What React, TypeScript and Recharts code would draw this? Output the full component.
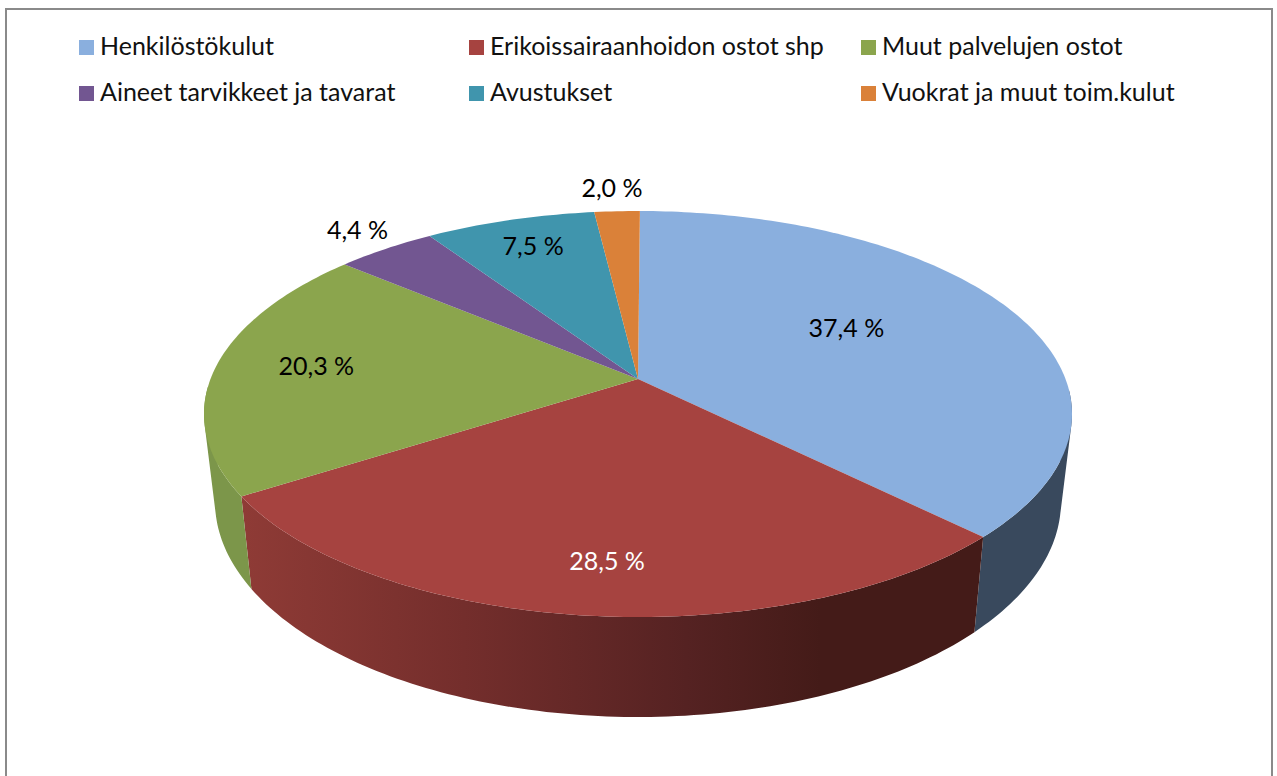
import React from "react";
import { PieChart, Pie, Legend } from "recharts";

const categories = [
  "Henkilöstökulut",
  "Erikoissairaanhoidon ostot shp",
  "Muut palvelujen ostot",
  "Aineet tarvikkeet ja tavarat",
  "Avustukset",
  "Vuokrat ja muut toim.kulut",
];
const values = [37.4, 28.5, 20.3, 4.4, 7.5, 2.0];
const valueLabels = ["37,4 %", "28,5 %", "20,3 %", "4,4 %", "7,5 %", "2,0 %"];
const topColors = ["#8aafde", "#a64340", "#8ba54d", "#725691", "#4095ad", "#da8139"];
const labelColors = ["#000", "#fff", "#000", "#000", "#000", "#000"];

// label placement, in the pie's own polar terms
const labelRadius = [0.575, 0.803, 0.763, 1.147, 0.812, 1.165];
const labelNudge = [-5.1, -1.6, 0.9, 0.7, 0.4, -0.3];
const LABEL_LIFT = 1.5;

// side wall shading, by slice
const sideStops: [number, string][][] = [
  [[0, "#39495d"], [1, "#39495d"]],
  [[0, "#8f3b36"], [0.3, "#742e2c"], [0.6, "#552222"], [0.78, "#441b18"], [1, "#441b18"]],
  [[0, "#7c964a"], [1, "#748c45"]],
  [[0, "#55406c"], [1, "#55406c"]],
  [[0, "#2f7082"], [1, "#2f7082"]],
  [[0, "#a3602a"], [1, "#a3602a"]],
];

const FONT = "Lato, Carlito, sans-serif";
const CX = 638;
const CY = 414;
const RX = 434;
const SQUASH = 203 / 434;
const TILT = 0.172; // how far the apex sits above the ellipse centre (unit disc)
const BOTTOM_CY_SHIFT = 87.5;
const BOTTOM_RX_RATIO = 423 / 434;
const BOTTOM_RY_RATIO = 215.5 / 434;

// recharts polar degrees -> unit-disc position on the tilted disc
const project = (deg: number, r = 1) => {
  const rad = (deg * Math.PI) / 180;
  const u = r * Math.cos(rad);
  const v = r * Math.sin(rad);
  const d = 1 + TILT * v;
  return { u: (u * Math.sqrt(1 - TILT * TILT)) / d, v: (v + TILT) / d };
};

const sampleAngles = (a: number, b: number) => {
  const n = Math.max(2, Math.ceil(Math.abs(a - b)));
  return Array.from({ length: n + 1 }, (_, i) => a + ((b - a) * i) / n);
};

const TopShape = (p: any) => {
  const { cx, cy, outerRadius: R, startAngle, endAngle, fill } = p;
  const pt = (deg: number, r = 1) => {
    const q = project(deg, r);
    return `${cx + R * q.u},${cy - R * SQUASH * q.v}`;
  };
  const arc = sampleAngles(startAngle, endAngle).map((a) => pt(a));
  return <path d={`M${pt(0, 0)}L${arc.join("L")}Z`} fill={fill} stroke="none" />;
};

const SideShape = (p: any) => {
  const { cx, cy, outerRadius: R, startAngle, endAngle, index } = p;
  const top = (q: { u: number; v: number }) => [cx + R * q.u, cy - R * SQUASH * q.v];
  const bot = (q: { u: number; v: number }) => [
    cx + R * BOTTOM_RX_RATIO * q.u,
    cy + BOTTOM_CY_SHIFT - R * BOTTOM_RY_RATIO * q.v,
  ];
  const angles = sampleAngles(startAngle, endAngle);
  let d = "";
  for (let i = 0; i < angles.length - 1; i++) {
    const a = project(angles[i]);
    const b = project(angles[i + 1]);
    if (a.v > 0.12 && b.v > 0.12) continue; // the back of the wall is never seen
    let quad = [top(a), top(b), bot(b), bot(a)];
    let area = 0;
    quad.forEach((s, k) => {
      const t = quad[(k + 1) % 4];
      area += s[0] * t[1] - t[0] * s[1];
    });
    if (area < 0) quad = quad.slice().reverse();
    d += `M${quad.map((s) => s.join(",")).join("L")}Z`;
  }
  if (!d) return <g />;
  const id = `side-${index}`;
  const stops = sideStops[index] ?? sideStops[0];
  return (
    <g>
      <defs>
        <linearGradient id={id} gradientUnits="userSpaceOnUse" x1={240} x2={985} y1={0} y2={0}>
          {stops.map(([o, c]) => (
            <stop key={o} offset={o} stopColor={c} />
          ))}
        </linearGradient>
      </defs>
      <path d={d} fill={`url(#${id})`} stroke="none" />
    </g>
  );
};

const renderLabel = (p: any) => {
  const { cx, cy, outerRadius: R, midAngle, index } = p;
  const q = project(midAngle - labelNudge[index], labelRadius[index]);
  return (
    <text
      x={cx + R * q.u}
      y={cy - R * SQUASH * q.v - LABEL_LIFT}
      textAnchor="middle"
      dominantBaseline="central"
      fill={labelColors[index]}
      fontFamily={FONT}
      fontSize={25}
    >
      {valueLabels[index]}
    </text>
  );
};

const legendCols = [79, 469, 861];
const legendRows = [40, 86];
const renderLegend = () => (
  <div style={{ position: "relative", height: 0 }}>
    {categories.map((c, i) => (
      <div key={c}>
        <div
          style={{
            position: "absolute",
            left: legendCols[i % 3],
            top: legendRows[Math.floor(i / 3)],
            width: 15,
            height: 15,
            background: topColors[i],
          }}
        />
        <div
          style={{
            position: "absolute",
            left: legendCols[i % 3] + 21,
            top: legendRows[Math.floor(i / 3)] - 10,
            lineHeight: "30px",
            fontFamily: FONT,
            fontSize: 25,
            color: "#111",
            whiteSpace: "nowrap",
          }}
        >
          {c}
        </div>
      </div>
    ))}
  </div>
);

const rows = categories.map((name, i) => ({ name, value: values[i], fill: topColors[i] }));

export default function App() {
  return (
    <div style={{ position: "absolute", left: 0, top: 0, width: 1277, height: 776, background: "#fff", overflow: "hidden" }}>
      <div
        style={{
          position: "absolute",
          left: 5,
          top: 8,
          width: 1264,
          height: 780,
          border: "2px solid #8a8a8a",
        }}
      />
      <div style={{ position: "absolute", left: 0, top: 0 }}>
        <PieChart width={1277} height={776} margin={{ top: 0, right: 0, bottom: 0, left: 0 }}>
          <Legend content={renderLegend} wrapperStyle={{ left: 0, top: 0, width: 1277, height: 0 }} verticalAlign="top" />
          <Pie
            data={rows}
            dataKey="value"
            nameKey="name"
            cx={CX}
            cy={CY}
            outerRadius={RX}
            startAngle={89.7}
            endAngle={-270.3}
            paddingAngle={0}
            stroke="none"
            legendType="none"
            shape={SideShape}
            activeShape={SideShape}
            inactiveShape={SideShape}
            isAnimationActive={false}
          />
          <Pie
            data={rows}
            dataKey="value"
            nameKey="name"
            cx={CX}
            cy={CY}
            outerRadius={RX}
            startAngle={89.7}
            endAngle={-270.3}
            paddingAngle={0}
            stroke="none"
            shape={TopShape}
            activeShape={TopShape}
            inactiveShape={TopShape}
            label={renderLabel}
            labelLine={false}
            isAnimationActive={false}
          />
        </PieChart>
      </div>
    </div>
  );
}
